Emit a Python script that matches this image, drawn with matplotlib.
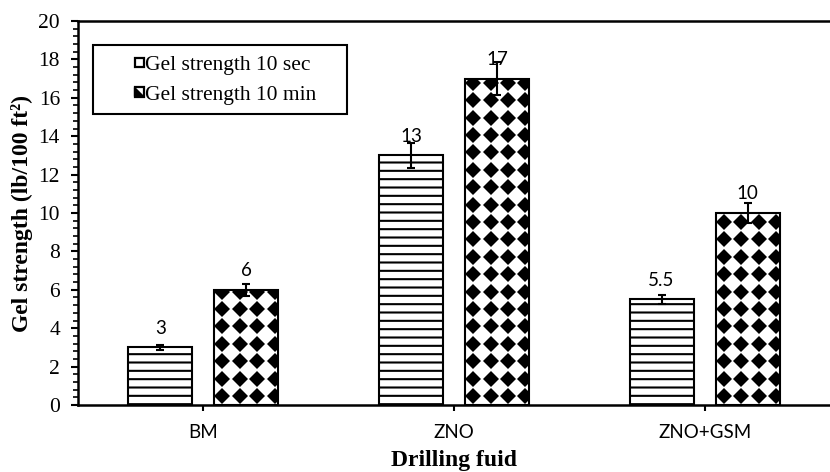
import numpy as np
import matplotlib
matplotlib.use("Agg")
import matplotlib.pyplot as plt
from matplotlib.patches import Rectangle, Polygon, Patch
from matplotlib.legend_handler import HandlerBase
from matplotlib.ticker import MultipleLocator

# Gel strength per drilling fluid
fluids = ["BM", "ZNO", "ZNO+GSM"]
gel_10s = [3, 13, 5.5]
gel_10m = [6, 17, 10]
err_10s = [0.15, 0.65, 0.25]
err_10m = [0.3, 0.85, 0.5]

SERIF = "Liberation Serif"
SANS = "Lato"
plt.rcParams["hatch.linewidth"] = 1.5

W, H = 830, 472
fig = plt.figure(figsize=(W / 100, H / 100), dpi=100)
left, right, bottom, top = 78 / W, 1.0, 1 - 405 / H, 1 - 21 / H
ax = fig.add_axes([left, bottom, right - left, top - bottom])

x = np.arange(len(fluids))
bw = 0.255
off = 0.172

ax.bar(x - off, gel_10s, bw, color="white", edgecolor="black", linewidth=1.5,
       hatch="--", zorder=2)
bars_10m = ax.bar(x + off, gel_10m, bw, color="white", edgecolor="none", zorder=2)

ax.set_xlim(-0.5, 2.5)
ax.set_ylim(0, 20)

# diamond pattern for the 10 min bars, clipped to each bar
ax_w_px = W * (right - left)
ax_h_px = H * (top - bottom)
px_x = 3.0 / ax_w_px
px_y = 20.0 / ax_h_px
step = 17.4
for b in bars_10m:
    nx = int(b.get_width() / px_x / step) + 2
    ny = int(b.get_height() / px_y / step) + 2
    xs = b.get_x() + (8 + step * np.arange(nx)) * px_x
    ys = (9 + step * np.arange(ny)) * px_y
    gx, gy = np.meshgrid(xs, ys)
    ln, = ax.plot(gx.ravel(), gy.ravel(), linestyle="none", marker="D",
                  markersize=8.6, color="black", markeredgewidth=0, zorder=2.5)
    ln.set_clip_path(b)
ax.bar(x + off, gel_10m, bw, color="none", edgecolor="black", linewidth=1.5, zorder=3)

ax.errorbar(x - off, gel_10s, yerr=err_10s, fmt="none", ecolor="black",
            elinewidth=1.5, capsize=3, capthick=1.5, zorder=4)
ax.errorbar(x + off, gel_10m, yerr=err_10m, fmt="none", ecolor="black",
            elinewidth=1.5, capsize=3, capthick=1.5, zorder=4)

# value labels
for xs_, vals in ((x - off, gel_10s), (x + off, gel_10m)):
    for xi, v in zip(xs_, vals):
        ax.annotate(f"{v:g}", (xi, v), xytext=(0, 10), textcoords="offset points",
                    ha="center", va="baseline", fontsize=13.5, family=SANS, zorder=5)

for s in ("top", "bottom", "left"):
    ax.spines[s].set_linewidth(1.8)
ax.spines["right"].set_visible(False)

ax.yaxis.set_major_locator(MultipleLocator(2))
ax.yaxis.set_minor_locator(MultipleLocator(0.4))
ax.tick_params(axis="y", which="major", direction="out", length=5, width=1.5, pad=8)
ax.tick_params(axis="y", which="minor", direction="out", length=3.5, width=1.2)
for lbl in ax.get_yticklabels():
    lbl.set_family(SERIF)
    lbl.set_fontsize(15.5)
ax.set_xticks(x)
ax.set_xticklabels(fluids, family=SANS, fontsize=13.5)
ax.tick_params(axis="x", direction="out", length=4, width=1.5, pad=10)

ax.set_ylabel("Gel strength (lb/100 ft²)", family=SERIF,
              fontweight="bold", fontsize=17, labelpad=4)
ax.set_xlabel("Drilling fuid", family=SERIF, fontweight="bold", fontsize=17, labelpad=6)


class SquareHandler(HandlerBase):
    def __init__(self, half_black=False):
        super().__init__()
        self.half_black = half_black

    def create_artists(self, legend, orig_handle, xdescent, ydescent, width, height,
                       fontsize, trans):
        s = height * 0.6
        x0 = width - s - xdescent
        y0 = -ydescent + (height - s) / 2
        arts = [Rectangle((x0, y0), s, s, facecolor="white", edgecolor="black",
                          linewidth=1.6, transform=trans)]
        if self.half_black:
            arts.append(Polygon([[x0, y0], [x0 + s, y0], [x0, y0 + s]], closed=True,
                                facecolor="black", edgecolor="black", linewidth=1.0,
                                transform=trans))
        return arts


h1 = Patch(label="Gel strength 10 sec")
h2 = Patch(label="Gel strength 10 min")
leg = ax.legend(handles=[h1, h2], loc="upper left",
                bbox_to_anchor=(93 / W, 1 - 45 / H, 254 / W, 0.0),
                bbox_transform=fig.transFigure, mode="expand", borderaxespad=0,
                handler_map={h1: SquareHandler(False), h2: SquareHandler(True)},
                prop={"family": SERIF, "size": 15.5}, handlelength=1.9,
                handletextpad=0.05, labelspacing=0.45, borderpad=0.45,
                fancybox=False, edgecolor="black", framealpha=1)
leg.get_frame().set_linewidth(1.5)

fig.savefig("out.png", dpi=100)
